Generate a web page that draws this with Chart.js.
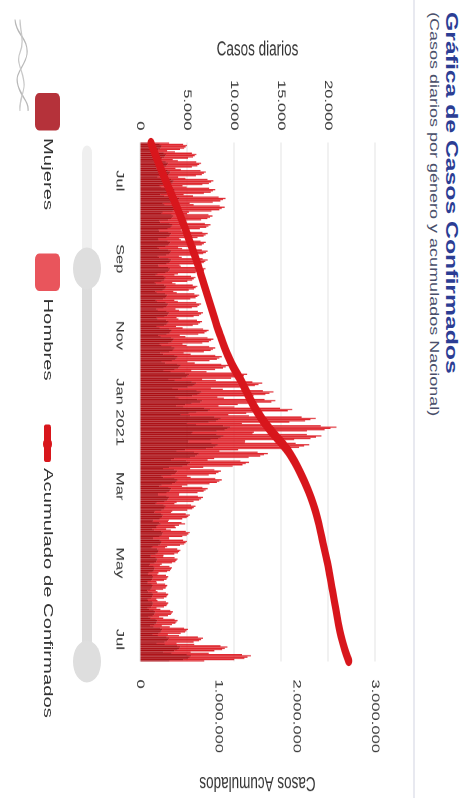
<!DOCTYPE html>
<html>
<head>
<meta charset="utf-8">
<script src="https://cdn.jsdelivr.net/npm/chart.js@4.4.1/dist/chart.umd.min.js"></script>
<style>
html,body{margin:0;padding:0;background:#fff;overflow:hidden;width:466px;height:798px;}
#wrap{position:absolute;left:0;top:0;width:532px;height:466px;transform-origin:0 0;transform:translateX(466px) rotate(90deg) scaleX(1.5);font-family:"Liberation Sans",Arial,sans-serif;}
.abs{position:absolute;white-space:nowrap;}
</style>
</head>
<body>
<div id="wrap">
  <div class="abs" style="left:8px;top:5px;font-size:16.5px;font-weight:bold;color:#2b3d94;">Gráfica de Casos Confirmados</div>
  <div class="abs" style="left:8px;top:25px;font-size:12px;color:#4a4f6a;">(Casos diarios por género y acumulados Nacional)</div>
  <div class="abs" style="left:0;top:51px;width:532px;height:2px;background:#e8e9f0;"></div>
  <canvas id="c" width="532" height="466" style="position:absolute;left:0;top:0;"></canvas>
  <svg class="abs" width="532" height="466" style="left:0;top:0;">
    <path d="M13,451 C22,451 26,437 36,439 C45,441 48,452 57,448 C64,445 68,437 74,438" fill="none" stroke="#b8b8b8" stroke-width="1.2"/>
    <path d="M13,446 C21,446 27,441 35,446 C43,451 50,440 58,442 C65,444 69,447 74,446" fill="none" stroke="#c8c8c8" stroke-width="1.2"/>
    <rect x="97" y="374" width="90" height="10" rx="5" fill="#efefef"/>
    <rect x="180" y="374" width="261" height="10" fill="#dcdcdc"/>
    <circle cx="179" cy="379" r="14" fill="#dedede"/>
    <circle cx="441" cy="379" r="14" fill="#dedede"/>
  </svg>
  <div id="legend"></div>
</div>
<script>
// ---------- data ----------
const startDate = '2020-06-01';
const dayCount = 413;
const tickDates = ['2020-07-01','2020-09-01','2020-11-01','2021-01-01','2021-03-01','2021-05-01','2021-07-01'];
const tickTexts = ['Jul','Sep','Nov','Jan 2021','Mar','May','Jul'];
const yTicksLeft = [0,5000,10000,15000,20000,25000];
const yTicksRight = [0,1000000,2000000,3000000];

const mujeres = [
1420,2110,2300,2230,2160,1950,1330,
1710,2540,2760,2680,2590,2350,1600,
1850,2750,2990,2900,2810,2540,1740,
2000,2960,3220,3120,3020,2740,1870,
2220,3300,3590,3480,3370,3050,2080,
2280,3380,3680,3570,3460,3130,2140,
2590,3850,4190,4060,3930,3560,2430,
2620,3900,4150,4000,3880,3500,2400,
2300,3350,3550,3430,3300,2990,2050,
2140,3170,3450,3350,3240,2930,2000,
2050,3050,3310,3210,3110,2820,1920,
2000,2960,3220,3120,3020,2740,1870,
2060,3020,3300,3230,3090,2800,1900,
2040,3060,3320,3190,3120,2830,1930,
1990,2980,3200,3130,3000,2720,1860,
1680,2500,2710,2630,2550,2310,1580,
1740,2580,2810,2720,2640,2390,1630,
1800,2660,2900,2810,2720,2460,1680,
1850,2750,2990,2900,2810,2540,1740,
1910,2830,3080,2990,2890,2620,1790,
1880,2790,3040,2940,2850,2580,1760,
2080,3090,3360,3260,3150,2850,1950,
2220,3300,3590,3480,3370,3050,2080,
2280,3380,3680,3570,3460,3130,2140,
2480,3680,4000,3880,3760,3400,2320,
2680,3980,4320,4190,4060,3680,2510,
3250,4820,5240,5080,4920,4460,3040,
3710,5500,5980,5800,5620,5080,3470,
4050,6010,6530,6330,6130,5550,3790,
4100,6090,6620,6420,5500,4800,3850,
4620,6850,7450,7230,6000,5200,4330,
5330,7910,8600,8340,8080,7310,4990,
5960,8840,9610,9320,9030,8170,5580,
5500,8160,8880,8610,8340,7540,5150,
5130,7610,8280,8030,7780,7040,4810,
3880,5750,6260,6070,5880,5320,3630,
3310,4910,5340,5170,5010,4540,3100,
2450,3640,3960,3840,3720,3360,2300,
2480,3680,4000,3880,3760,3400,2320,
2050,3050,3310,3210,3110,2820,1920,
1910,2830,3080,2990,2890,2620,1790,
1680,2500,2710,2630,2550,2310,1580,
1510,2240,2440,2360,2290,2070,1420,
1370,2030,2210,1900,1700,1750,1280,
1510,2240,2440,2360,2290,2070,1420,
1420,2110,2300,2230,2160,1950,1330,
1230,1820,1980,1920,1860,1680,1150,
1140,1690,1840,1780,1730,1560,1070,
970,1440,1560,1520,1470,1330,910,
860,1270,1380,1340,1300,1170,800,
830,1230,1330,1290,1250,1130,770,
860,1270,1380,1340,1300,1170,800,
850,1280,1370,1350,1290,1180,810,
1000,1480,1610,1560,1510,1370,930,
1140,1690,1840,1780,1730,1560,1070,
1450,2160,2350,2280,2210,1990,1360,
1910,2830,3080,2990,2890,2620,1790,
2650,3940,4280,4150,4020,3640,2480,
3360,4990,5430,5260,5100,4610,3150
];

const hombres = [
1680,2480,2700,2620,2540,2300,1560,
2010,2980,3240,3140,3050,2750,1880,
2180,3230,3510,3400,3300,2980,2030,
2350,3480,3780,3670,3560,3210,2190,
2610,3880,4210,4090,3960,3580,2440,
2680,3980,4320,4190,4060,3670,2500,
3050,4520,4910,4770,4620,4180,2850,
3080,4580,4860,4700,4560,4100,2800,
2700,3930,4160,4020,3870,3510,2400,
2510,3730,4050,3930,3810,3440,2350,
2410,3580,3890,3770,3660,3300,2250,
2350,3480,3780,3670,3560,3210,2190,
2420,3560,3900,3780,3640,3290,2240,
2400,3600,3880,3760,3680,3320,2270,
2340,3500,3770,3680,3540,3200,2180,
1980,2930,3190,3090,3000,2710,1850,
2040,3030,3290,3200,3100,2800,1910,
2110,3130,3400,3300,3200,2890,1970,
2180,3230,3510,3400,3300,2980,2030,
2240,3330,3620,3510,3400,3080,2100,
2210,3280,3560,3460,3350,3030,2070,
2450,3630,3940,3830,3710,3350,2280,
2610,3880,4210,4090,3960,3580,2440,
2680,3980,4320,4190,4060,3670,2500,
2910,4320,4700,4560,4420,3990,2720,
3150,4670,5080,4930,4770,4310,2940,
3820,5670,6160,5970,5790,5230,3570,
4360,6460,7020,6810,6600,5970,4070,
4760,7060,7670,7440,7210,6520,4440,
4820,7160,7780,7550,6400,5600,4500,
5430,8050,8750,8490,7000,6100,5070,
6260,9290,10100,9790,9490,8580,5850,
7000,10390,11290,10950,10610,9590,6540,
6470,9590,10420,10110,9800,8860,6040,
6030,8950,9720,9430,9140,8260,5630,
4560,6760,7340,7120,6910,6240,4260,
3890,5770,6260,6080,5890,5320,3630,
2880,4270,4640,4510,4370,3950,2690,
2910,4320,4700,4560,4420,3990,2720,
2410,3580,3890,3770,3660,3300,2250,
2240,3330,3620,3510,3400,3080,2100,
1980,2930,3190,3090,3000,2710,1850,
1780,2630,2860,2780,2690,2430,1660,
1610,2390,2590,2250,2000,2060,1500,
1780,2630,2860,2780,2690,2430,1660,
1680,2480,2700,2620,2540,2300,1560,
1440,2140,2320,2250,2180,1970,1350,
1340,1990,2160,2100,2030,1840,1250,
1140,1690,1840,1780,1730,1560,1060,
1000,1490,1620,1570,1520,1380,940,
970,1440,1570,1520,1470,1330,910,
1000,1490,1620,1570,1520,1380,940,
1010,1480,1630,1560,1530,1370,950,
1170,1740,1890,1830,1780,1610,1100,
1340,1990,2160,2100,2030,1840,1250,
1710,2530,2750,2670,2590,2340,1600,
2240,3330,3620,3510,3400,3080,2100,
3120,4620,5020,4870,4720,4270,2910,
3950,5860,6370,6180,6000,5420,3690
];

const acumDates = [
'2020-06-01','2020-06-08','2020-06-15','2020-06-22','2020-06-29','2020-07-06','2020-07-13','2020-07-20','2020-07-27',
'2020-08-03','2020-08-10','2020-08-17','2020-08-24','2020-08-31','2020-09-07','2020-09-14','2020-09-21','2020-09-28',
'2020-10-05','2020-10-12','2020-10-19','2020-10-26','2020-11-02','2020-11-09','2020-11-16','2020-11-23','2020-11-30',
'2020-12-07','2020-12-14','2020-12-21','2020-12-28','2021-01-04','2021-01-11','2021-01-18','2021-01-25','2021-02-01',
'2021-02-08','2021-02-15','2021-02-22','2021-03-01','2021-03-08','2021-03-15','2021-03-22','2021-03-29','2021-04-05',
'2021-04-12','2021-04-19','2021-04-26','2021-05-03','2021-05-10','2021-05-17','2021-05-24','2021-05-31','2021-06-07',
'2021-06-14','2021-06-21','2021-06-28','2021-07-05','2021-07-12','2021-07-18'
];
const acumValues = [
140000,183000,226000,270000,316000,363000,410000,458000,503000,
546000,588000,628000,668000,708000,746000,780000,815000,850000,
885000,920000,955000,990000,1030000,1070000,1115000,1165000,1225000,
1290000,1345000,1400000,1460000,1530000,1610000,1700000,1800000,1890000,
1960000,2020000,2075000,2125000,2170000,2210000,2245000,2275000,2300000,
2325000,2350000,2375000,2400000,2420000,2440000,2460000,2480000,2500000,
2520000,2540000,2565000,2595000,2630000,2665000
];

// ---------- categories (one per day) ----------
const labels = [];
(function(){
  const d = new Date(startDate + 'T00:00:00Z');
  for (let i = 0; i < dayCount; i++) {
    labels.push(d.toISOString().slice(0,10));
    d.setUTCDate(d.getUTCDate() + 1);
  }
})();
const tickIndex = tickDates.map(t => labels.indexOf(t));
const fmt = v => String(v).replace(/\B(?=(\d{3})+(?!\d))/g, '.');

const colMuj = '#a8060c', colHom = '#dd1c24', colAcu = '#d8161c';
const FONT = '"Liberation Sans", Arial, sans-serif';
const TXT = '#333';

new Chart(document.getElementById('c'), {
  data: {
    labels: labels,
    datasets: [
      { type: 'line', label: 'Acumulado de Confirmados', yAxisID: 'y1', order: 0,
        data: acumDates.map((d,i) => ({x: d, y: acumValues[i]})),
        borderColor: colAcu, borderWidth: 7, pointRadius: 0, cubicInterpolationMode: 'monotone',
        borderCapStyle: 'round', fill: false },
      { type: 'bar', label: 'Mujeres', yAxisID: 'y', order: 1, data: mujeres,
        backgroundColor: colMuj, barPercentage: 0.92, categoryPercentage: 1.0 },
      { type: 'bar', label: 'Hombres', yAxisID: 'y', order: 1, data: hombres,
        backgroundColor: colHom, barPercentage: 0.92, categoryPercentage: 1.0 }
    ]
  },
  options: {
    responsive: false,
    animation: false,
    devicePixelRatio: 2,
    layout: { padding: { top: 91, bottom: 100, left: 0, right: 0 } },
    plugins: { legend: { display: false }, tooltip: { enabled: false }, title: { display: false } },
    scales: {
      x: {
        type: 'category', stacked: true, offset: true,
        grid: { display: false, drawTicks: false }, border: { display: false },
        afterBuildTicks: s => { s.ticks = tickIndex.map(i => ({ value: i })); },
        afterFit: s => { s.height = 40; },
        ticks: { autoSkip: false, maxRotation: 0, minRotation: 0, padding: 14,
          color: TXT, font: { family: FONT, size: 11 },
          callback: v => { const k = tickIndex.indexOf(v); return k >= 0 ? tickTexts[k] : null; } }
      },
      y: {
        position: 'left', stacked: true, min: 0, max: 25000,
        afterBuildTicks: s => { s.ticks = yTicksLeft.map(v => ({ value: v })); },
        afterFit: s => { s.width = 95; },
        grid: { color: '#e4e4e4', lineWidth: 1, drawTicks: false }, border: { display: false },
        ticks: { padding: 8, color: TXT, font: { family: FONT, size: 11 },
          callback: v => v === 25000 ? '' : fmt(v) },
        title: { display: true, text: 'Casos diarios', color: TXT,
          font: { family: FONT, size: 13.5 }, padding: { top: 25, bottom: 0 } }
      },
      y1: {
        position: 'right', stacked: false, min: 0, max: 3000000,
        afterBuildTicks: s => { s.ticks = yTicksRight.map(v => ({ value: v })); },
        afterFit: s => { s.width = 91; },
        grid: { display: false, drawTicks: false }, border: { display: false },
        ticks: { padding: 12, color: TXT, font: { family: FONT, size: 11 }, callback: v => fmt(v) },
        title: { display: true, text: 'Casos Acumulados', color: TXT,
          font: { family: FONT, size: 13.5 }, padding: { top: 2, bottom: 0 } }
      }
    }
  }
});

// ---------- legend (HTML, inside the rotated frame) ----------
const legendItems = [
  { text: 'Mujeres', color: '#b5323a', kind: 'box', x: 62, tx: 92 },
  { text: 'Hombres', color: '#e9555c', kind: 'box', x: 169, tx: 199 },
  { text: 'Acumulado de Confirmados', color: colAcu, kind: 'line', x: 283, tx: 312 }
];
const lg = document.getElementById('legend');
legendItems.forEach(it => {
  if (it.kind === 'box') {
    const b = document.createElement('div');
    b.className = 'abs';
    b.style.cssText = `left:${it.x}px;top:406px;width:25px;height:25px;border-radius:4px;background:${it.color};`;
    lg.appendChild(b);
  } else {
    const l = document.createElement('div');
    l.className = 'abs';
    l.style.cssText = `left:${it.x}px;top:415px;width:25px;height:7px;background:${it.color};border-radius:2px;`;
    lg.appendChild(l);
    const c = document.createElement('div');
    c.className = 'abs';
    c.style.cssText = `left:${it.x + 9}px;top:414px;width:8px;height:9px;border-radius:50%;background:${it.color};`;
    lg.appendChild(c);
  }
  const t = document.createElement('div');
  t.className = 'abs';
  t.style.cssText = `left:${it.tx}px;top:410px;font-size:13.5px;color:#333;line-height:16px;`;
  t.textContent = it.text;
  lg.appendChild(t);
});
</script>
</body>
</html>
